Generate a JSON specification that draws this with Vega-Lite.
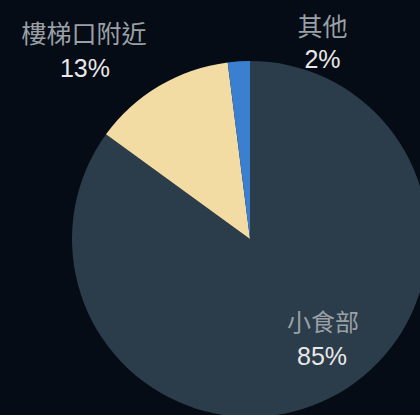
{
  "$schema": "https://vega.github.io/schema/vega-lite/v6.json",
  "autosize": "none",
  "width": 340,
  "height": 352,
  "padding": {"left": 80, "top": 63, "right": 0, "bottom": 0},
  "background": "#050c15",
  "config": {"view": {"stroke": null}},
  "data": {"values": [
    {"cat": "小食部", "value": 85, "pct": "85%", "o": 1},
    {"cat": "樓梯口附近", "value": 13, "pct": "13%", "o": 2},
    {"cat": "其他", "value": 2, "pct": "2%", "o": 3}
  ]},
  "encoding": {
    "theta": {"field": "value", "type": "quantitative", "stack": true},
    "order": {"field": "o", "type": "quantitative"}
  },
  "layer": [
    {
      "mark": {"type": "arc", "outerRadius": 178},
      "encoding": {
        "color": {"field": "cat", "type": "nominal", "legend": null,
          "scale": {"domain": ["小食部", "樓梯口附近", "其他"], "range": ["#2b3c4a", "#f3dba4", "#3b7fd1"]}}
      }
    },
    {
      "mark": {"type": "text", "radius": 130, "dx": 14, "dy": -31, "font": "Noto Sans CJK TC", "fontSize": 24, "fill": "#9aa0a6", "baseline": "middle", "align": "center"},
      "encoding": {"text": {"condition": {"test": "datum.cat === '小食部'", "field": "cat"}, "value": ""}}
    },
    {
      "mark": {"type": "text", "radius": 130, "dx": 13, "dy": 2, "font": "Liberation Sans", "fontSize": 25, "fill": "#e8e8e8", "baseline": "middle", "align": "center"},
      "encoding": {"text": {"condition": {"test": "datum.cat === '小食部'", "field": "pct"}, "value": ""}}
    },
    {
      "mark": {"type": "text", "radius": 230, "dx": -49, "dy": -6, "font": "Noto Sans CJK TC", "fontSize": 25, "fill": "#9aa0a6", "baseline": "middle", "align": "center"},
      "encoding": {"text": {"condition": {"test": "datum.cat === '樓梯口附近'", "field": "cat"}, "value": ""}}
    },
    {
      "mark": {"type": "text", "radius": 230, "dx": -48, "dy": 28, "font": "Liberation Sans", "fontSize": 25, "fill": "#e8e8e8", "baseline": "middle", "align": "center"},
      "encoding": {"text": {"condition": {"test": "datum.cat === '樓梯口附近'", "field": "pct"}, "value": ""}}
    },
    {
      "mark": {"type": "text", "radius": 200, "dx": 85, "dy": -11, "font": "Noto Sans CJK TC", "fontSize": 25, "fill": "#9aa0a6", "baseline": "middle", "align": "center"},
      "encoding": {"text": {"condition": {"test": "datum.cat === '其他'", "field": "cat"}, "value": ""}}
    },
    {
      "mark": {"type": "text", "radius": 200, "dx": 85, "dy": 21, "font": "Liberation Sans", "fontSize": 25, "fill": "#e8e8e8", "baseline": "middle", "align": "center"},
      "encoding": {"text": {"condition": {"test": "datum.cat === '其他'", "field": "pct"}, "value": ""}}
    }
  ]
}
